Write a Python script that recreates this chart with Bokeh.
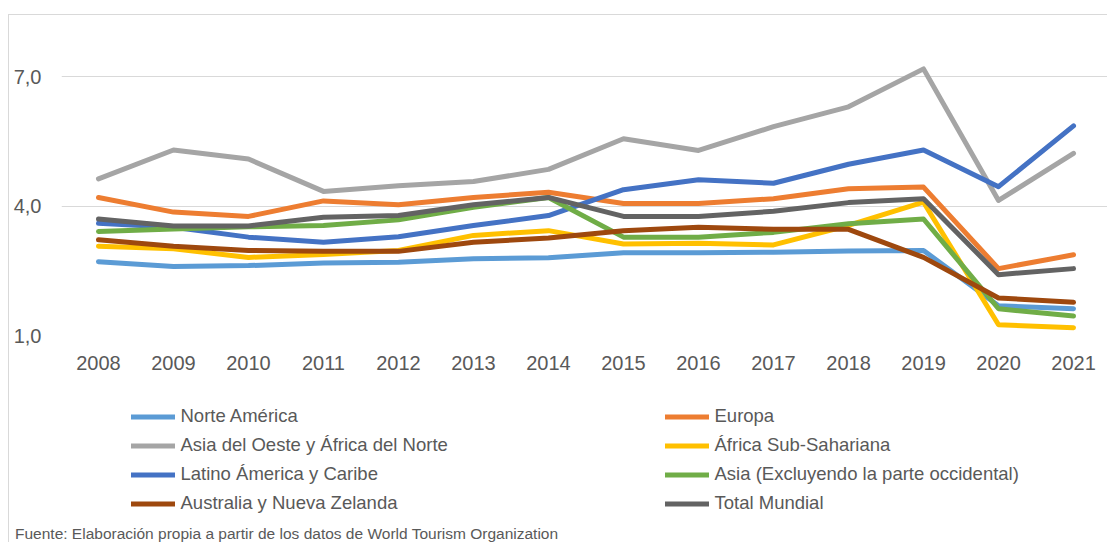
from bokeh.plotting import figure
from bokeh.layouts import column
from bokeh.models import FixedTicker, Legend, LegendItem, Div, Range1d
from bokeh.embed import file_html
from bokeh.resources import INLINE

years = list(range(2008, 2022))
y_ticks = [1, 4, 7]
y_tick_labels = ["1,0", "4,0", "7,0"]

norte_america = [2.71, 2.60, 2.62, 2.68, 2.70, 2.78, 2.80, 2.92, 2.92, 2.93, 2.96, 2.97, 1.69, 1.62]
europa = [4.20, 3.86, 3.76, 4.12, 4.03, 4.20, 4.32, 4.06, 4.06, 4.17, 4.40, 4.44, 2.55, 2.87]
asia_oeste_africa_norte = [4.63, 5.30, 5.09, 4.34, 4.47, 4.57, 4.85, 5.56, 5.29, 5.84, 6.30, 7.18, 4.13, 5.22]
africa_subsahariana = [3.07, 3.01, 2.81, 2.88, 2.97, 3.32, 3.43, 3.12, 3.14, 3.10, 3.55, 4.09, 1.25, 1.18]
latinoamerica_caribe = [3.60, 3.51, 3.28, 3.16, 3.29, 3.55, 3.78, 4.38, 4.61, 4.53, 4.97, 5.30, 4.45, 5.86]
asia_excl_occidental = [3.41, 3.47, 3.52, 3.55, 3.68, 3.97, 4.20, 3.28, 3.28, 3.39, 3.59, 3.70, 1.62, 1.45]
australia_nz = [3.22, 3.07, 2.97, 2.95, 2.95, 3.16, 3.26, 3.43, 3.51, 3.46, 3.46, 2.81, 1.87, 1.77]
total_mundial = [3.70, 3.54, 3.54, 3.74, 3.78, 4.03, 4.20, 3.76, 3.76, 3.88, 4.08, 4.17, 2.41, 2.55]

series = [
    ("Norte América", norte_america, "#5B9BD5"),
    ("Europa", europa, "#ED7D31"),
    ("Asia del Oeste y África del Norte", asia_oeste_africa_norte, "#A5A5A5"),
    ("África Sub-Sahariana", africa_subsahariana, "#FFC000"),
    ("Latino Ámerica y Caribe", latinoamerica_caribe, "#4472C4"),
    ("Asia (Excluyendo la parte occidental)", asia_excl_occidental, "#70AD47"),
    ("Australia y Nueva Zelanda", australia_nz, "#9E480E"),
    ("Total Mundial", total_mundial, "#636363"),
]
source_note = "Fuente: Elaboración propia a partir de los datos de World Tourism Organization"

FONT = "Liberation Sans"
TXT = "#595959"
BORDER = "#d9d9d9"

# main chart
p = figure(width=1098, height=365, output_backend="svg", toolbar_location=None,
           x_range=Range1d(2007.507, 2021.453), y_range=Range1d(1, 8),
           min_border_left=52, min_border_right=0, min_border_top=18, min_border_bottom=45)
p.outline_line_color = None
p.border_fill_color = "white"

for name, vals, col in series:
    p.line(years, vals, line_color=col, line_width=5, line_cap="round", line_join="round")

p.xgrid.visible = False
p.ygrid.ticker = FixedTicker(ticks=y_ticks)
p.ygrid.grid_line_color = BORDER
p.ygrid.grid_line_width = 1

p.xaxis.ticker = FixedTicker(ticks=years)
p.xaxis.major_label_overrides = {y: str(y) for y in years}
p.yaxis.ticker = FixedTicker(ticks=y_ticks)
p.yaxis.major_label_overrides = dict(zip(y_ticks, y_tick_labels))
for ax in (p.xaxis, p.yaxis):
    ax.axis_line_color = None
    ax.major_tick_line_color = None
    ax.minor_tick_line_color = None
    ax.major_tick_out = 0
    ax.major_tick_in = 0
    ax.major_label_text_font = FONT
    ax.major_label_text_font_size = "20px"
    ax.major_label_text_color = TXT
p.xaxis.major_label_standoff = 20
p.yaxis.major_label_standoff = 20

# legend panel
q = figure(width=1098, height=138, output_backend="svg", toolbar_location=None,
           x_range=Range1d(-10, -9), y_range=Range1d(-10, -9),
           x_axis_type=None, y_axis_type=None,
           min_border_left=0, min_border_right=0, min_border_top=0, min_border_bottom=0)
q.outline_line_color = None
q.grid.visible = False
q.border_fill_color = "white"

items = []
for name, vals, col in series:
    r = q.line(years, vals, line_color=col, line_width=5, line_cap="round", line_join="round")
    items.append(LegendItem(label=name, renderers=[r]))

legend = Legend(items=items, orientation="horizontal", ncols=2, nrows=4,
                location=(69.5, 0.5), padding=0, margin=0, spacing=0,
                glyph_width=44, glyph_height=29, label_height=29, label_width=484,
                label_standoff=6, label_text_font=FONT, label_text_font_size="18.5px",
                label_text_color=TXT, border_line_color=None, background_fill_alpha=0)
q.add_layout(legend, "center")

note = Div(text=source_note, width=1098, height=24,
           styles={"font-family": FONT, "font-size": "15.5px", "color": TXT,
                   "padding-left": "1px", "white-space": "nowrap", "overflow": "hidden"})

layout = column(p, q, note, spacing=0)
layout.styles = {"margin-left": "9px", "margin-top": "15px",
                 "box-shadow": f"-1px -1px 0 0 {BORDER}"}

open("out.html", "w").write(file_html(layout, INLINE))
